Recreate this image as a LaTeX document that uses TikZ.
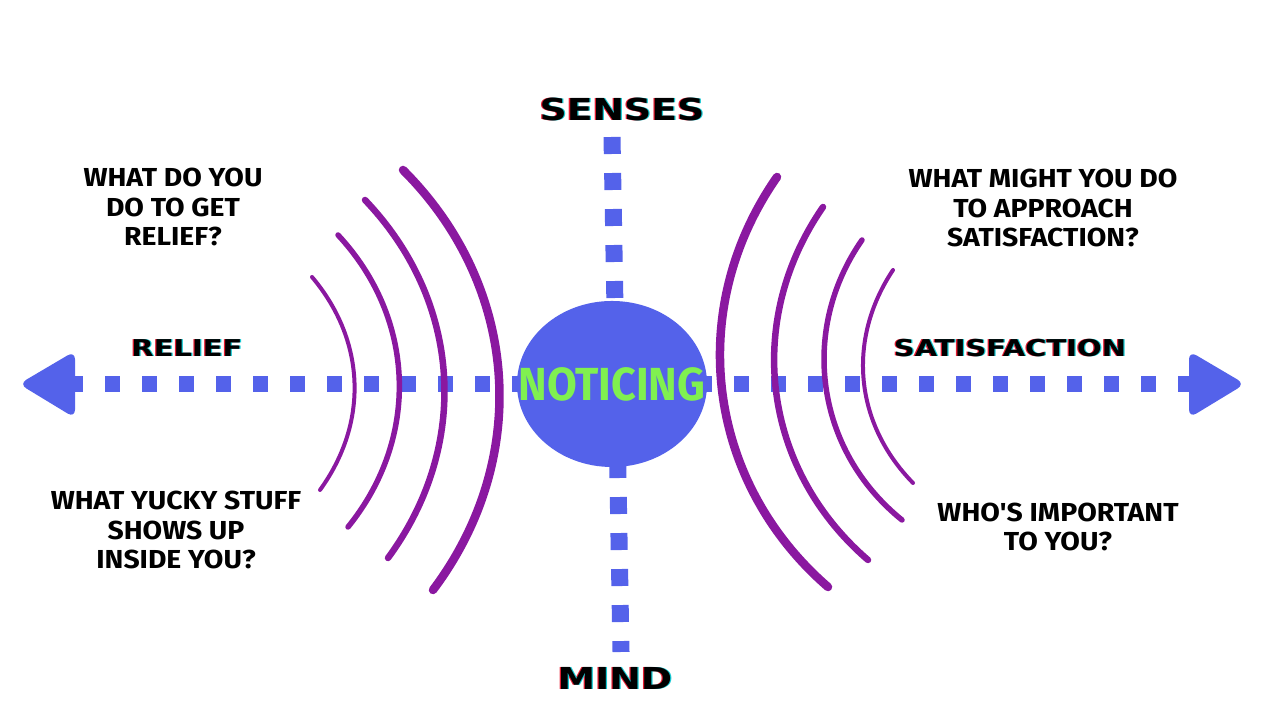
\documentclass[tikz,border=0pt]{standalone}
\usepackage{fontspec}
\usepackage{xcolor}
\usepackage{tikz}
\usetikzlibrary{positioning,shapes.geometric}

\newfontfamily\wideface{DejaVu Sans}[FakeStretch=1.25]
\newfontfamily\blockface{Fira Sans}[FakeStretch=1.09]
\newfontfamily\tagface{Fira Sans}[FakeStretch=0.93]

\definecolor{axisblue}{RGB}{84,98,234}
\definecolor{wavepurple}{RGB}{138,24,160}
\definecolor{noticegreen}{RGB}{128,240,80}
\definecolor{glitchred}{RGB}{230,30,50}
\definecolor{glitchcyan}{RGB}{20,200,210}

% black heading with a red/cyan fringe
\newcommand{\glitch}[1]{\rlap{\kern-0.9pt\textcolor{glitchred}{#1}}\rlap{\kern0.9pt\textcolor{glitchcyan}{#1}}#1}

\begin{document}
\begin{tikzpicture}[x=0.025cm, y=0.025cm,
    heading/.style={font=\wideface\bfseries\fontsize{21.5}{24}\selectfont},
    subheading/.style={font=\wideface\bfseries\fontsize{16.5}{20}\selectfont},
    question/.style={font=\blockface\bfseries\fontsize{18.5}{21}\selectfont, align=center},
    hdots/.style={axisblue, line width=0.4cm, dash pattern=on 0.375cm off 0.55cm},
    vdots/.style={axisblue, line width=0.425cm, dash pattern=on 0.425cm off 0.475cm},
    wave/.style={wavepurple, line cap=round}]

\useasboundingbox (0,0) rectangle (1280,720);

% Axis end points
\coordinate (leftend) at (68,336);
\coordinate (rightend) at (1192,336);
\coordinate (topend) at (612,583);
\coordinate (bottomend) at (621,68);

% Dotted axes
\draw[hdots] (leftend) -- (rightend);
\draw[vdots] (topend) -- (bottomend);

% Arrow heads
\fill[axisblue, rounded corners=6pt] (75,369) -- (19,336) -- (75,302) -- cycle;
\fill[axisblue, rounded corners=6pt] (1189,369) -- (1245,336) -- (1189,302) -- cycle;

% Centre
\node[ellipse, fill=axisblue, minimum width=4.75cm, minimum height=4.15cm, inner sep=0pt] (notice) at (612,336) {};
\node[font=\tagface\bfseries\fontsize{33}{33}\selectfont, text=noticegreen] (noticelabel) at (notice.center) {NOTICING};

% Left waves
\draw[wave, line width=4*0.025cm] (312,443) to[bend left=38] (320,230);
\draw[wave, line width=5.5*0.025cm] (338,485) to[bend left=41] (348,193);
\draw[wave, line width=6.5*0.025cm] (365,520) to[bend left=40] (388,162);
\draw[wave, line width=8.5*0.025cm] (403,550) to[bend left=41] (433,130);

% Right waves
\draw[wave, line width=8.5*0.025cm] (777,543) to[bend right=42] (828,133);
\draw[wave, line width=6.5*0.025cm] (823,513) to[bend right=42] (868,160);
\draw[wave, line width=5.5*0.025cm] (862,480) to[bend right=43] (902,200);
\draw[wave, line width=4*0.025cm] (893,450) to[bend right=39] (913,237);

% Axis labels
\node[heading] (senses) at (622,610) {\glitch{SENSES}};
\node[heading] (mind) at (615,42) {\glitch{MIND}};
\node[subheading] (relief) at (187,372) {\glitch{RELIEF}};
\node[subheading] (satisfaction) at (1010,372) {\glitch{SATISFACTION}};

% Questions
\node[question] (qrelief) at (173,513) {WHAT DO YOU\\DO TO GET\\RELIEF?};
\node[question] (qapproach) at (1043,512) {WHAT MIGHT YOU DO\\TO APPROACH\\SATISFACTION?};
\node[question] (qyucky) at (176,190) {WHAT YUCKY STUFF\\SHOWS UP\\INSIDE YOU?};
\node[question] (qimportant) at (1058,193) {WHO'S IMPORTANT\\TO YOU?};

\end{tikzpicture}
\end{document}
